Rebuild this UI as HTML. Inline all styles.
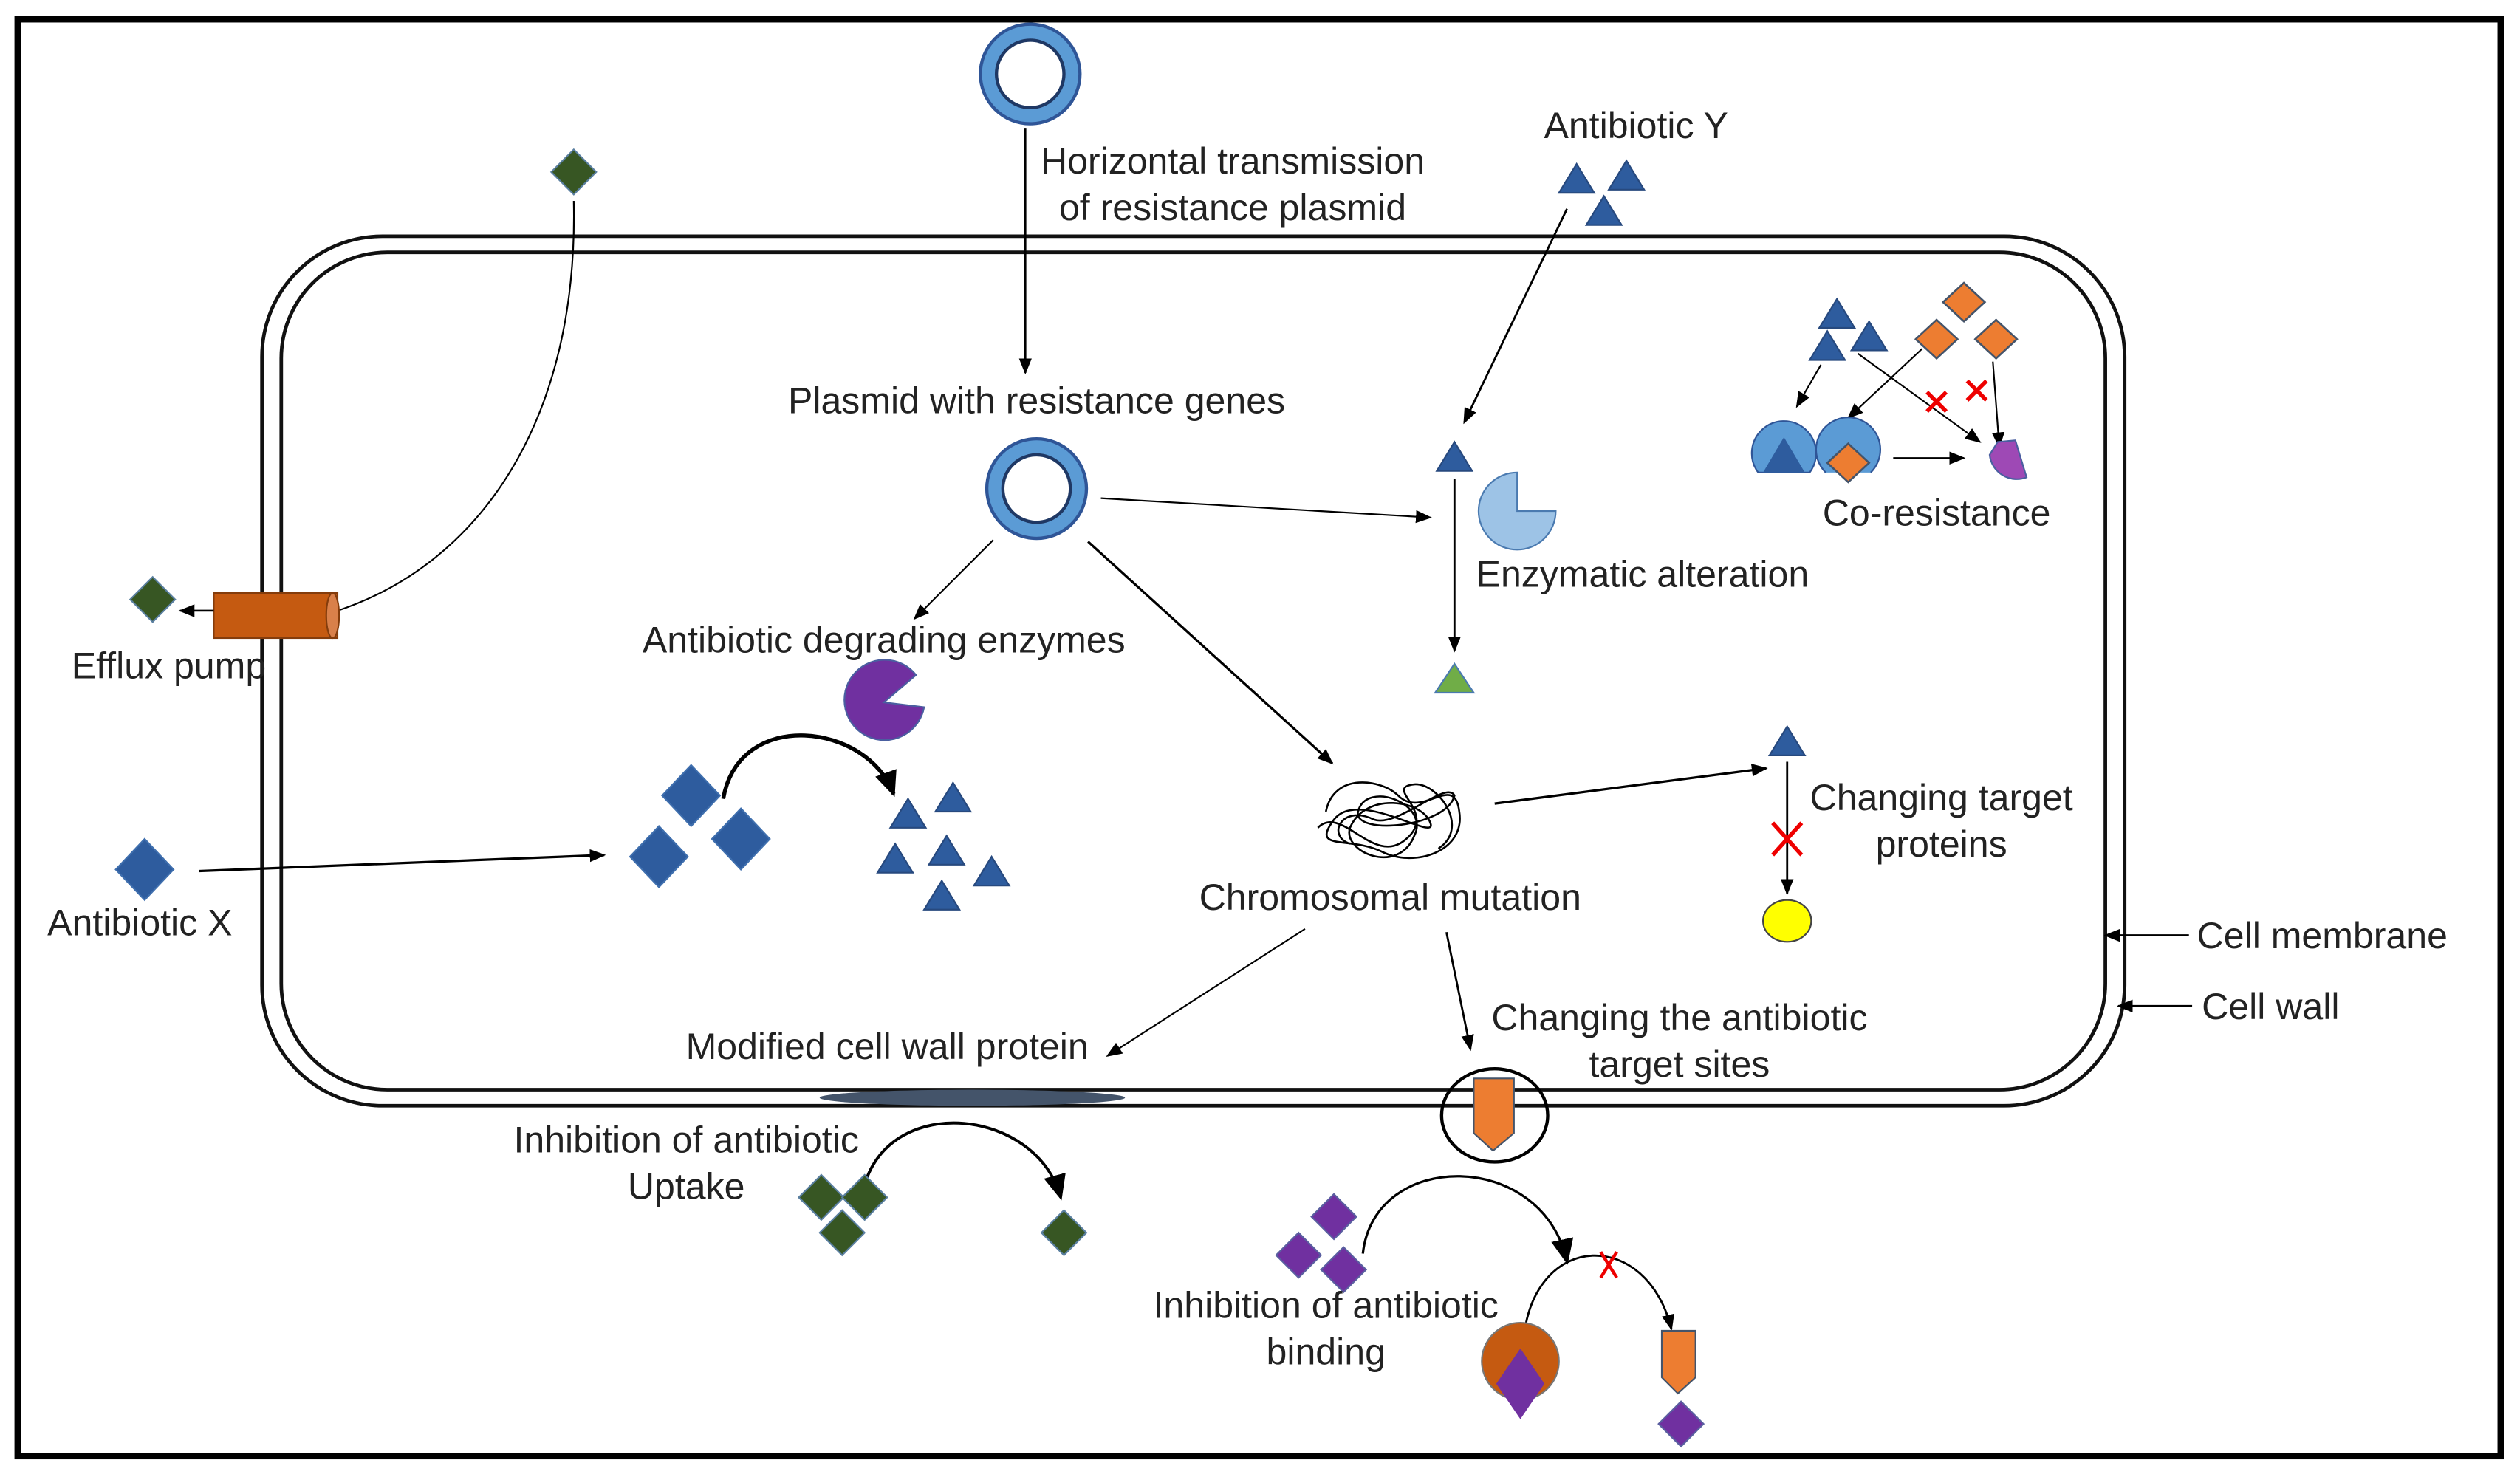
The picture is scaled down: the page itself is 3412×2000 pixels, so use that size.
<!DOCTYPE html>
<html><head><meta charset="utf-8"><style>html,body{margin:0;padding:0;background:#fff}svg{display:block}</style></head>
<body>
<svg width="3412" height="2000" viewBox="0 0 1568 919" preserveAspectRatio="none" xmlns="http://www.w3.org/2000/svg" font-family="Liberation Sans, Arial, sans-serif" font-size="23" fill="#222">
<defs>
<marker id="a" markerWidth="10" markerHeight="10" refX="9" refY="5" orient="auto" markerUnits="userSpaceOnUse"><path d="M0,1 L10,5 L0,9 z" fill="#000"/></marker>
<marker id="b" markerWidth="16" markerHeight="16" refX="14" refY="8" orient="auto" markerUnits="userSpaceOnUse"><path d="M0,1 L16,8 L0,15 z" fill="#000"/></marker>
<g id="tb"><polygon points="0,-10 11,8 -11,8" fill="#2e5c9e" stroke="#27497e" stroke-width="1"/></g>
<g id="dg"><polygon points="0,-14 14,0 0,14 -14,0" fill="#375623" stroke="#5a7fa0" stroke-width="1"/></g>
<g id="db"><polygon points="0,-19 18,0 0,19 -18,0" fill="#2e5c9e" stroke="#3f6fae" stroke-width="1"/></g>
<g id="dp"><polygon points="0,-14 14,0 0,14 -14,0" fill="#7030a0" stroke="#5a5fa0" stroke-width="1"/></g>
<g id="do"><polygon points="0,-12 13,0 0,12 -13,0" fill="#ed7d31" stroke="#44546a" stroke-width="1.2"/></g>
<g id="pl"><circle r="31" fill="#5b9bd5" stroke="#2f5597" stroke-width="2"/><circle r="21" fill="#fff" stroke="#1f3864" stroke-width="2"/></g>
</defs>
<rect x="11" y="12" width="1545" height="894" fill="none" stroke="#000" stroke-width="4"/>
<rect x="163" y="147" width="1159" height="541" rx="75" fill="none" stroke="#111" stroke-width="2.2"/>
<rect x="175" y="157" width="1135" height="521" rx="66" fill="none" stroke="#111" stroke-width="2.2"/>
<use href="#pl" x="641" y="46"/>
<line x1="638" y1="80" x2="638" y2="232" stroke="#000" stroke-width="1.2" marker-end="url(#a)"/>
<text x="767" y="108" text-anchor="middle">Horizontal transmission</text>
<text x="767" y="137" text-anchor="middle">of resistance plasmid</text>
<use href="#dg" x="357" y="107"/>
<path d="M357,125 C360,260 300,350 210,380" fill="none" stroke="#000" stroke-width="1"/>
<rect x="133" y="369" width="77" height="28" fill="#c55a11" stroke="#843c0c" stroke-width="1"/>
<ellipse cx="207" cy="383" rx="4" ry="14" fill="#d9804a" stroke="#843c0c" stroke-width="1"/>
<line x1="133" y1="380" x2="112" y2="380" stroke="#000" stroke-width="1.2" marker-end="url(#a)"/>
<use href="#dg" x="95" y="373"/>
<text x="105" y="422" text-anchor="middle">Efflux pump</text>
<use href="#db" x="90" y="541"/>
<text x="87" y="582" text-anchor="middle">Antibiotic X</text>
<line x1="124" y1="542" x2="376" y2="532" stroke="#000" stroke-width="1.5" marker-end="url(#a)"/>
<use href="#db" x="430" y="495"/><use href="#db" x="410" y="533"/><use href="#db" x="461" y="522"/>
<path d="M450,497 C460,440 540,450 556,494" fill="none" stroke="#000" stroke-width="2.5" marker-end="url(#b)"/>
<use href="#tb" x="565" y="507"/><use href="#tb" x="593" y="497"/><use href="#tb" x="557" y="535"/><use href="#tb" x="589" y="530"/><use href="#tb" x="617" y="543"/><use href="#tb" x="586" y="558"/>
<path d="M550,437 L570,420 A25,25 0 1,0 575,440 Z" fill="#7030a0" stroke="#4a5fa0" stroke-width="1"/>
<text x="550" y="406" text-anchor="middle">Antibiotic degrading enzymes</text>
<use href="#pl" x="645" y="304"/>
<text x="645" y="257" text-anchor="middle">Plasmid with resistance genes</text>
<line x1="618" y1="336" x2="569" y2="385" stroke="#000" stroke-width="1" marker-end="url(#a)"/>
<line x1="685" y1="310" x2="890" y2="322" stroke="#000" stroke-width="1" marker-end="url(#a)"/>
<line x1="677" y1="337" x2="829" y2="475" stroke="#000" stroke-width="1.5" marker-end="url(#a)"/>
<text x="1018" y="86" text-anchor="middle">Antibiotic Y</text>
<use href="#tb" x="981" y="112"/><use href="#tb" x="1012" y="110"/><use href="#tb" x="998" y="132"/>
<line x1="975" y1="130" x2="911" y2="263" stroke="#000" stroke-width="1.3" marker-end="url(#a)"/>
<use href="#tb" x="905" y="285"/>
<path d="M944,318 L968,318 A24,24 0 1,1 944,294 Z" fill="#9dc3e6" stroke="#4a7ab0" stroke-width="1"/>
<line x1="905" y1="298" x2="905" y2="405" stroke="#000" stroke-width="1.3" marker-end="url(#a)"/>
<polygon points="905,413 917,431 893,431" fill="#70ad47" stroke="#4a7ab0" stroke-width="1"/>
<text x="1022" y="365" text-anchor="middle">Enzymatic alteration</text>
<use href="#tb" x="1143" y="196"/><use href="#tb" x="1137" y="216"/><use href="#tb" x="1163" y="210"/>
<use href="#do" x="1222" y="188"/><use href="#do" x="1205" y="211"/><use href="#do" x="1242" y="211"/>
<line x1="1133" y1="227" x2="1118" y2="253" stroke="#000" stroke-width="1" marker-end="url(#a)"/>
<line x1="1196" y1="217" x2="1150" y2="260" stroke="#000" stroke-width="1" marker-end="url(#a)"/>
<line x1="1156" y1="220" x2="1232" y2="275" stroke="#000" stroke-width="1" marker-end="url(#a)"/>
<line x1="1240" y1="225" x2="1244" y2="278" stroke="#000" stroke-width="1" marker-end="url(#a)"/>
<line x1="1178" y1="285" x2="1222" y2="285" stroke="#000" stroke-width="1" marker-end="url(#a)"/>
<path d="M1199,244 l12,12 M1211,244 l-12,12 M1224,237 l12,12 M1236,237 l-12,12" stroke="#e00" stroke-width="2.5"/>
<path d="M1094,294 A20,20 0 1,1 1126,294 Z" fill="#5b9bd5" stroke="#2f5597" stroke-width="1"/>
<polygon points="1110,272 1123,294 1097,294" fill="#2e5c9e"/>
<path d="M1136,294 A20,20 0 1,1 1164,294" fill="#5b9bd5" stroke="#2f5597" stroke-width="1"/>
<use href="#do" x="1150" y="288"/>
<path d="M1243,275 L1254,274 L1261,297 A17,17 0 0,1 1238,283 Z" fill="#9e49b5" stroke="#4a5fa0" stroke-width="1"/>
<text x="1205" y="327" text-anchor="middle">Co-resistance</text>
<g fill="none" stroke="#000" stroke-width="1.2">
<path d="M825,505 C830,480 860,485 870,495 C885,510 905,480 908,505 C912,530 880,540 860,530 C840,520 815,530 830,510 C845,490 895,525 890,512 C885,498 850,492 840,515 C835,530 870,545 880,520 C890,500 850,485 845,505 C842,520 900,515 905,495 C900,485 870,515 855,510 C835,500 825,520 840,525"/>
<path d="M820,515 C835,500 855,540 875,522 C895,505 860,490 880,488 C895,487 915,515 895,528"/>
</g>
<text x="865" y="566" text-anchor="middle">Chromosomal mutation</text>
<line x1="930" y1="500" x2="1099" y2="478" stroke="#000" stroke-width="1.5" marker-end="url(#a)"/>
<use href="#tb" x="1112" y="462"/>
<line x1="1112" y1="474" x2="1112" y2="556" stroke="#000" stroke-width="1.3" marker-end="url(#a)"/>
<path d="M1103,512 l18,20 M1121,512 l-18,20" stroke="#e00" stroke-width="2.5"/>
<ellipse cx="1112" cy="573" rx="15" ry="13" fill="#ffff00" stroke="#444" stroke-width="1"/>
<text x="1208" y="504" text-anchor="middle">Changing target</text>
<text x="1208" y="533" text-anchor="middle">proteins</text>
<line x1="812" y1="578" x2="689" y2="657" stroke="#000" stroke-width="1" marker-end="url(#a)"/>
<text x="552" y="659" text-anchor="middle">Modified cell wall protein</text>
<ellipse cx="605" cy="683" rx="95" ry="5" fill="#44546a"/>
<line x1="900" y1="580" x2="915" y2="653" stroke="#000" stroke-width="1.3" marker-end="url(#a)"/>
<text x="1045" y="641" text-anchor="middle">Changing the antibiotic</text>
<text x="1045" y="670" text-anchor="middle">target sites</text>
<line x1="1362" y1="582" x2="1310" y2="582" stroke="#000" stroke-width="1.3" marker-end="url(#a)"/>
<text x="1367" y="590">Cell membrane</text>
<line x1="1364" y1="626" x2="1318" y2="626" stroke="#000" stroke-width="1.3" marker-end="url(#a)"/>
<text x="1370" y="634">Cell wall</text>
<ellipse cx="930" cy="694" rx="33" ry="29" fill="none" stroke="#000" stroke-width="2"/>
<polygon points="917,671 942,671 942,705 929,716 917,705" fill="#ed7d31" stroke="#44546a" stroke-width="1"/>
<text x="427" y="717" text-anchor="middle">Inhibition of antibiotic</text>
<text x="427" y="746" text-anchor="middle">Uptake</text>
<path d="M538,737 C555,680 645,690 660,745" fill="none" stroke="#000" stroke-width="1.8" marker-end="url(#b)"/>
<use href="#dg" x="511" y="745"/><use href="#dg" x="538" y="745"/><use href="#dg" x="524" y="767"/><use href="#dg" x="662" y="767"/>
<path d="M848,780 C855,715 960,715 975,785" fill="none" stroke="#000" stroke-width="1.5" marker-end="url(#b)"/>
<use href="#dp" x="830" y="757"/><use href="#dp" x="808" y="781"/><use href="#dp" x="836" y="790"/>
<text x="825" y="820" text-anchor="middle">Inhibition of antibiotic</text>
<text x="825" y="849" text-anchor="middle">binding</text>
<path d="M948,833 C955,765 1025,765 1040,827" fill="none" stroke="#000" stroke-width="1.3" marker-end="url(#a)"/>
<path d="M996,779 l10,16 M1006,779 l-10,16" stroke="#e00" stroke-width="2"/>
<ellipse cx="946" cy="847" rx="24" ry="24" fill="#c55a11" stroke="#777" stroke-width="1"/>
<polygon points="946,839 961,861 946,883 931,861" fill="#7030a0"/>
<polygon points="1034,828 1055,828 1055,857 1044,867 1034,857" fill="#ed7d31" stroke="#44546a" stroke-width="1"/>
<use href="#dp" x="1046" y="886"/>
</svg>
</body></html>
